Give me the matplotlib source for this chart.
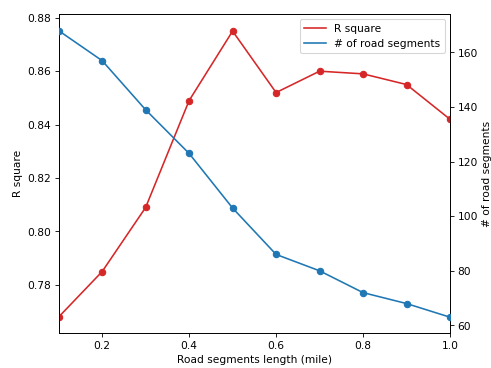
import matplotlib
matplotlib.use("Agg")
import matplotlib.pyplot as plt

lengths = [0.1, 0.2, 0.3, 0.4, 0.5, 0.6, 0.7, 0.8, 0.9, 1.0]
r_square = [0.768, 0.785, 0.809, 0.849, 0.875, 0.852, 0.860, 0.859, 0.855, 0.842]
n_segments = [168, 157, 139, 123, 103, 86, 80, 72, 68, 63]

fig = plt.figure(figsize=(6.4, 4.8), dpi=491 / 6.4)
ax1 = fig.add_axes([0.1195, 0.095, 0.797, 0.867])
ax2 = ax1.twinx()

l1, = ax1.plot(lengths, r_square, color="tab:red", label="R square")
ax1.scatter(lengths, r_square, color="tab:red", zorder=3)
l2, = ax2.plot(lengths, n_segments, color="tab:blue", label="# of road segments")
ax2.scatter(lengths, n_segments, color="tab:blue", zorder=3)

ax1.set_xlim(0.1, 1.0)
ax1.set_ylim(0.762, 0.8815)
ax2.set_ylim(57.2, 174.2)
ax1.set_xticks([0.2, 0.4, 0.6, 0.8, 1.0])
ax1.set_xlabel("Road segments length (mile)")
ax1.set_ylabel("R square")
ax2.set_ylabel("# of road segments")
ax2.legend([l1, l2], ["R square", "# of road segments"], loc="upper right")

fig.savefig("out.png")
